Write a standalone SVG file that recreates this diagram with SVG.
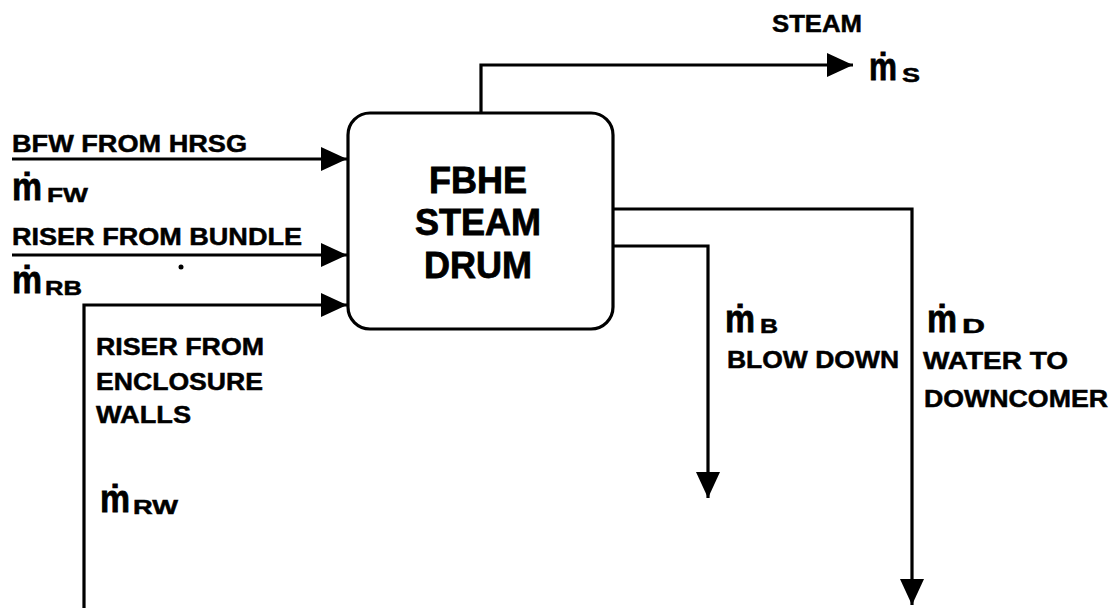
<svg xmlns="http://www.w3.org/2000/svg" width="1114" height="608" viewBox="0 0 1114 608">
<defs>
<style>
.ln{fill:none;stroke:#000;stroke-width:3.2}
.t{font-family:"Liberation Sans",Arial,Helvetica,sans-serif;font-weight:bold;font-size:24px;fill:#000;stroke:#000;stroke-width:0.5}
.bt{font-family:"Liberation Sans",Arial,Helvetica,sans-serif;font-weight:bold;font-size:36px;fill:#000;stroke:#000;stroke-width:0.8;text-anchor:middle}
.m{font-family:"Liberation Sans","DejaVu Sans",Arial,sans-serif;font-weight:bold;font-size:38px;fill:#000;stroke:#000;stroke-width:0.8}
.s{font-family:"Liberation Sans",Arial,Helvetica,sans-serif;font-weight:bold;font-size:21px;fill:#000;stroke:#000;stroke-width:0.5}
</style>
<marker id="ah" viewBox="0 0 26 24" refX="26" refY="12" markerWidth="26" markerHeight="24" markerUnits="userSpaceOnUse" orient="auto">
<path d="M0,0 L26,12 L0,24 Z" fill="#000"/>
</marker>
</defs>
<rect width="1114" height="608" fill="#fff"/>
<g id="connectors">
<path class="ln" d="M481,113 V65 H853" marker-end="url(#ah)"/>
<path class="ln" d="M12,159 H347" marker-end="url(#ah)"/>
<path class="ln" d="M12,255 H347" marker-end="url(#ah)"/>
<path class="ln" d="M84,608 V305 H347" marker-end="url(#ah)"/>
<path class="ln" d="M613,209 H912 V605" marker-end="url(#ah)"/>
<path class="ln" d="M613,246 H708 V498" marker-end="url(#ah)"/>
</g>
<g id="drum">
<rect x="348" y="113" width="265" height="216" rx="22" ry="22" fill="#fff" stroke="#000" stroke-width="3.2"/>
<text class="bt" x="478" y="193">FBHE</text>
<text class="bt" x="478" y="235">STEAM</text>
<text class="bt" x="478" y="278">DRUM</text>
</g>
<g id="steam">
<text class="t" x="772" y="32" textLength="90" lengthAdjust="spacingAndGlyphs">STEAM</text>
<text class="m" x="869" y="80" textLength="28" lengthAdjust="spacingAndGlyphs">ṁ</text>
<text class="s" x="902" y="82" textLength="18" lengthAdjust="spacingAndGlyphs">S</text>
</g>
<g id="bfw">
<text class="t" x="12" y="152" textLength="235" lengthAdjust="spacingAndGlyphs">BFW FROM HRSG</text>
<text class="m" x="12" y="200" textLength="30" lengthAdjust="spacingAndGlyphs">ṁ</text>
<text class="s" x="47" y="202" textLength="41" lengthAdjust="spacingAndGlyphs">FW</text>
</g>
<g id="riser-bundle">
<text class="t" x="12" y="245" textLength="290" lengthAdjust="spacingAndGlyphs">RISER FROM BUNDLE</text>
<text class="m" x="12" y="293" textLength="30" lengthAdjust="spacingAndGlyphs">ṁ</text>
<text class="s" x="45" y="295" textLength="37" lengthAdjust="spacingAndGlyphs">RB</text>
<circle cx="181" cy="267" r="2.5" fill="#000"/>
</g>
<g id="riser-walls">
<text class="t" x="96" y="355" textLength="168" lengthAdjust="spacingAndGlyphs">RISER FROM</text>
<text class="t" x="96" y="390" textLength="167" lengthAdjust="spacingAndGlyphs">ENCLOSURE</text>
<text class="t" x="96" y="423" textLength="95" lengthAdjust="spacingAndGlyphs">WALLS</text>
<text class="m" x="100" y="512" textLength="30" lengthAdjust="spacingAndGlyphs">ṁ</text>
<text class="s" x="133" y="514" textLength="45" lengthAdjust="spacingAndGlyphs">RW</text>
</g>
<g id="blowdown">
<text class="m" x="725" y="332" textLength="30" lengthAdjust="spacingAndGlyphs">ṁ</text>
<text class="s" x="760" y="333" textLength="18" lengthAdjust="spacingAndGlyphs">B</text>
<text class="t" x="727" y="368" textLength="172" lengthAdjust="spacingAndGlyphs">BLOW DOWN</text>
</g>
<g id="downcomer">
<text class="m" x="927" y="332" textLength="30" lengthAdjust="spacingAndGlyphs">ṁ</text>
<text class="s" x="962" y="333" textLength="23" lengthAdjust="spacingAndGlyphs">D</text>
<text class="t" x="923" y="369" textLength="145" lengthAdjust="spacingAndGlyphs">WATER TO</text>
<text class="t" x="924" y="407" textLength="184" lengthAdjust="spacingAndGlyphs">DOWNCOMER</text>
</g>
</svg>
